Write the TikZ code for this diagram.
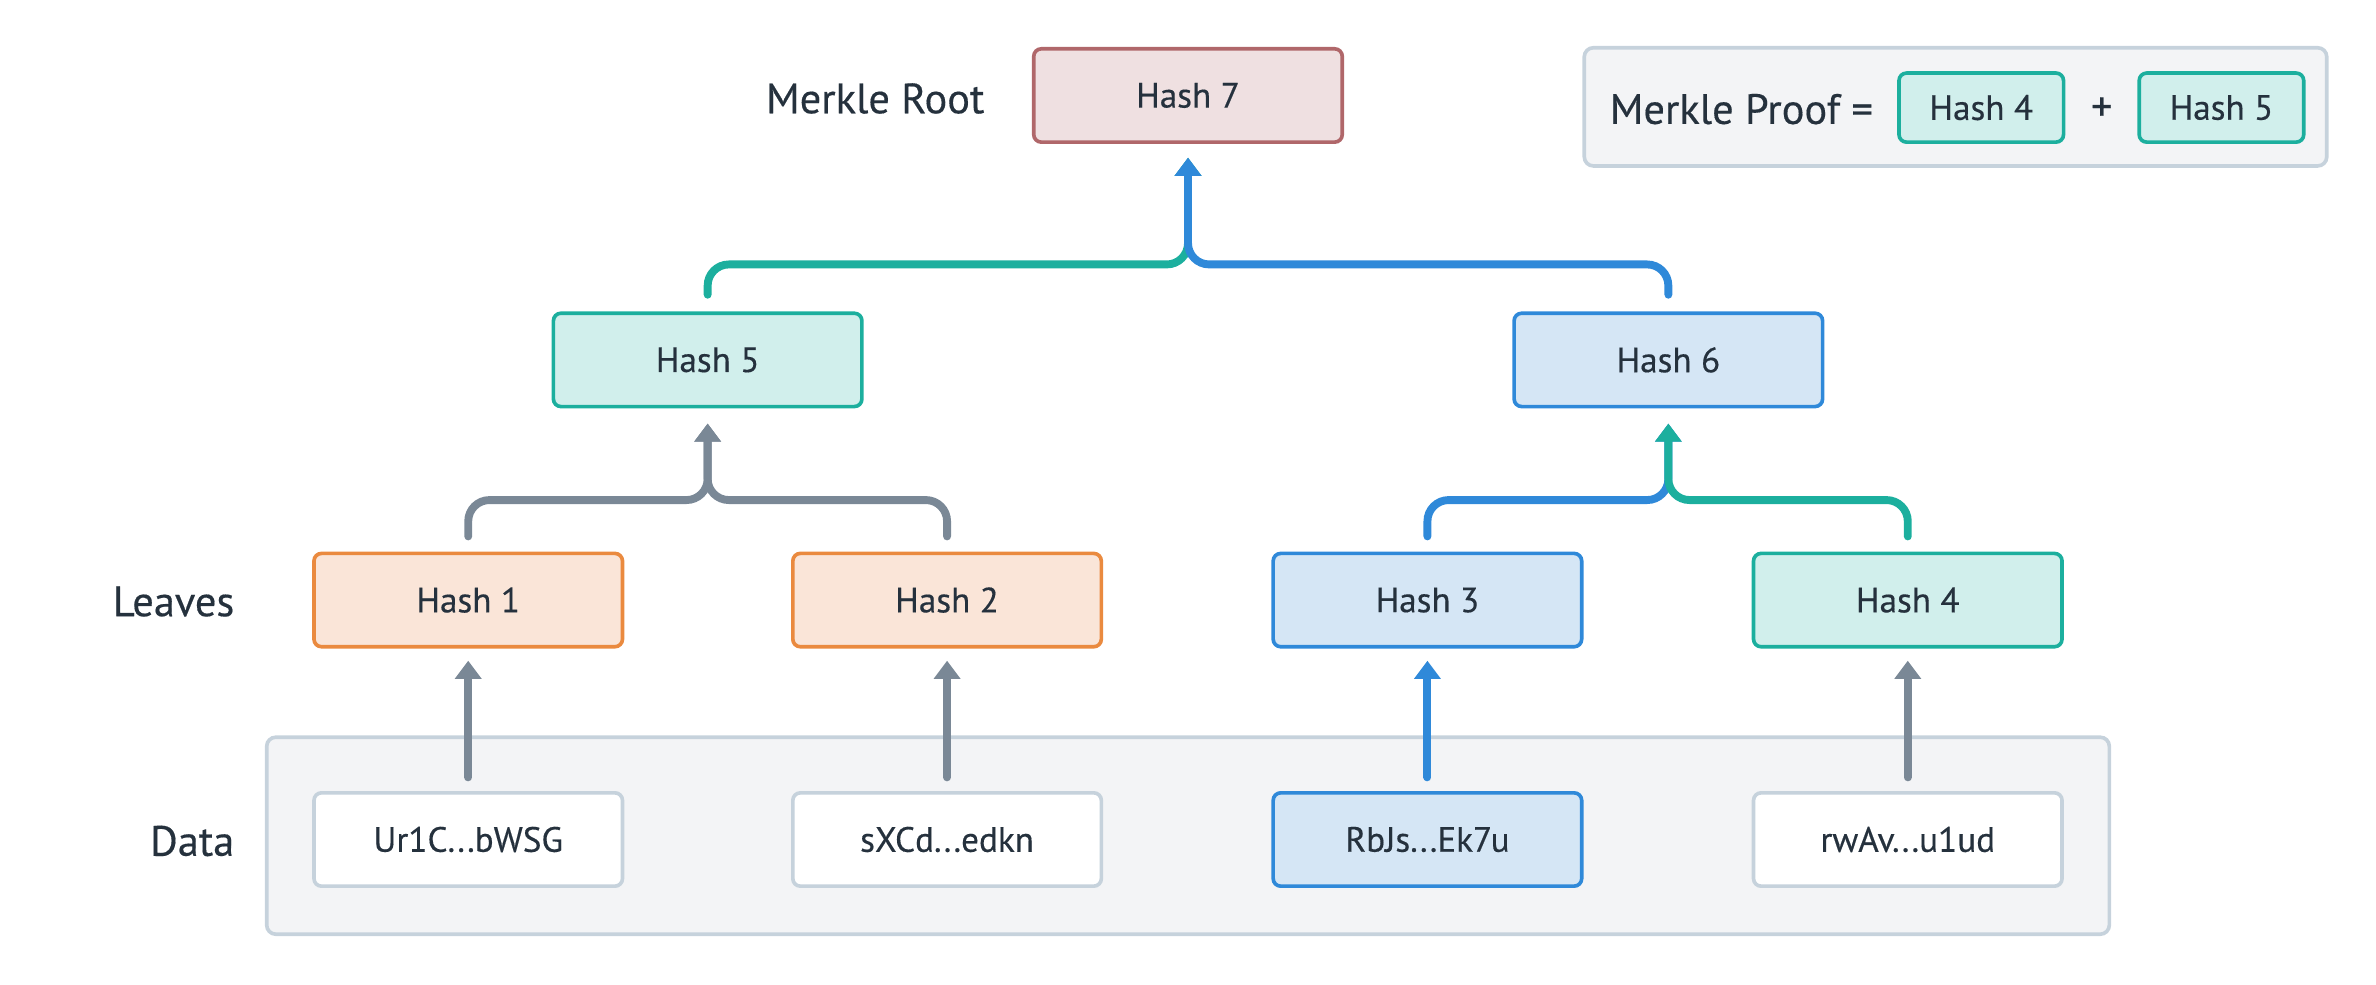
\documentclass[tikz,border=0pt]{standalone}
\usepackage{fontspec}
\setmainfont{PT Sans}[FakeBold=0.35]
\usetikzlibrary{arrows.meta}
\definecolor{txt}{HTML}{25313D}
\definecolor{cgray}{HTML}{7A8896}
\definecolor{orB}{HTML}{EA8A3F}
\definecolor{orF}{HTML}{FAE5D8}
\definecolor{teB}{HTML}{1CAF9E}
\definecolor{teF}{HTML}{D1EFEC}
\definecolor{blB}{HTML}{2F89D9}
\definecolor{blF}{HTML}{D5E6F5}
\definecolor{rdB}{HTML}{B0676A}
\definecolor{rdF}{HTML}{EFE0E1}
\definecolor{grB}{HTML}{C6D2DC}
\definecolor{grF}{HTML}{F3F4F6}
\tikzset{
  hbox/.style={draw, line width=1.2pt, rounded corners=2.5pt, minimum width=101.8pt, minimum height=30.8pt,
    inner sep=0pt, text=txt, font=\fontsize{11.6}{13}\selectfont},
  orange box/.style={hbox, draw=orB, fill=orF},
  teal box/.style={hbox, draw=teB, fill=teF},
  blue box/.style={hbox, draw=blB, fill=blF},
  red box/.style={hbox, draw=rdB, fill=rdF},
  data box/.style={hbox, draw=grB, fill=white},
  small box/.style={hbox, minimum width=54.3pt, minimum height=22.8pt, draw=teB, fill=teF},
  group box/.style={draw=grB, fill=grF, line width=1.2pt, rounded corners=3pt, inner sep=0pt},
  lbl/.style={text=txt, font=\fontsize{14}{16}\selectfont, inner sep=0pt},
  conn/.style={line width=2.6pt, line cap=round, rounded corners=7pt,
    -{Triangle[width=8.5pt,length=6pt]}},
}
\begin{document}
\begin{tikzpicture}[x=0.5pt,y=-0.5pt]
\useasboundingbox (0,0) rectangle (1568,649.4);
% data group
\node[group box, minimum width=608pt, minimum height=65pt] (grp) at (784,551.5) {};
% proof box
\node[group box, minimum width=245pt, minimum height=39pt] (proof) at (1290.5,70.5) {};
\node[lbl, anchor=west] (ptext) at (1062,72) {Merkle Proof =};
\node[small box] (p4) at (1307.5,71) {Hash 4};
\node[lbl] (plus) at (1387,72) {+};
\node[small box] (p5) at (1466,71) {Hash 5};
% labels
\node[lbl, anchor=east] (lroot) at (650,65) {Merkle Root};
\node[lbl, anchor=east] (lleaves) at (155,397) {Leaves};
\node[lbl, anchor=east] (ldata) at (155,555) {Data};
% tree
\node[red box] (h7) at (784,63) {Hash 7};
\node[teal box] (h5) at (467,237.5) {Hash 5};
\node[blue box] (h6) at (1101,237.5) {Hash 6};
\node[orange box] (h1) at (309,396) {Hash 1};
\node[orange box] (h2) at (625,396) {Hash 2};
\node[blue box] (h3) at (942,396) {Hash 3};
\node[teal box] (h4) at (1259,396) {Hash 4};
\node[data box] (d1) at (309,554) {Ur1C...bWSG};
\node[data box] (d2) at (625,554) {sXCd...edkn};
\node[blue box] (d3) at (942,554) {RbJs...Ek7u};
\node[data box] (d4) at (1259,554) {rwAv...u1ud};
% data -> leaves
\draw[conn, cgray] ([yshift=4.5pt]d1.north) -- ([yshift=-4pt]h1.south);
\draw[conn, cgray] ([yshift=4.5pt]d2.north) -- ([yshift=-4pt]h2.south);
\draw[conn, blB] ([yshift=4.5pt]d3.north) -- ([yshift=-4pt]h3.south);
\draw[conn, cgray] ([yshift=4.5pt]d4.north) -- ([yshift=-4pt]h4.south);
% leaves -> level 1
\draw[conn, cgray] ([yshift=5pt]h1.north) -- ++(0,-24) -| ([yshift=-5pt]h5.south);
\draw[conn, cgray] ([yshift=5pt]h2.north) -- ++(0,-24) -| ([yshift=-5pt]h5.south);
\draw[conn, blB] ([yshift=5pt]h3.north) -- ++(0,-24) -| ([yshift=-5pt]h6.south);
\draw[conn, teB] ([yshift=5pt]h4.north) -- ++(0,-24) -| ([yshift=-5pt]h6.south);
% level 1 -> root
\draw[conn, teB] ([yshift=5.5pt]h5.north) -- ++(0,-20) -| ([yshift=-4.5pt]h7.south);
\draw[conn, blB] ([yshift=5.5pt]h6.north) -- ++(0,-20) -| ([yshift=-4.5pt]h7.south);
\end{tikzpicture}
\end{document}
